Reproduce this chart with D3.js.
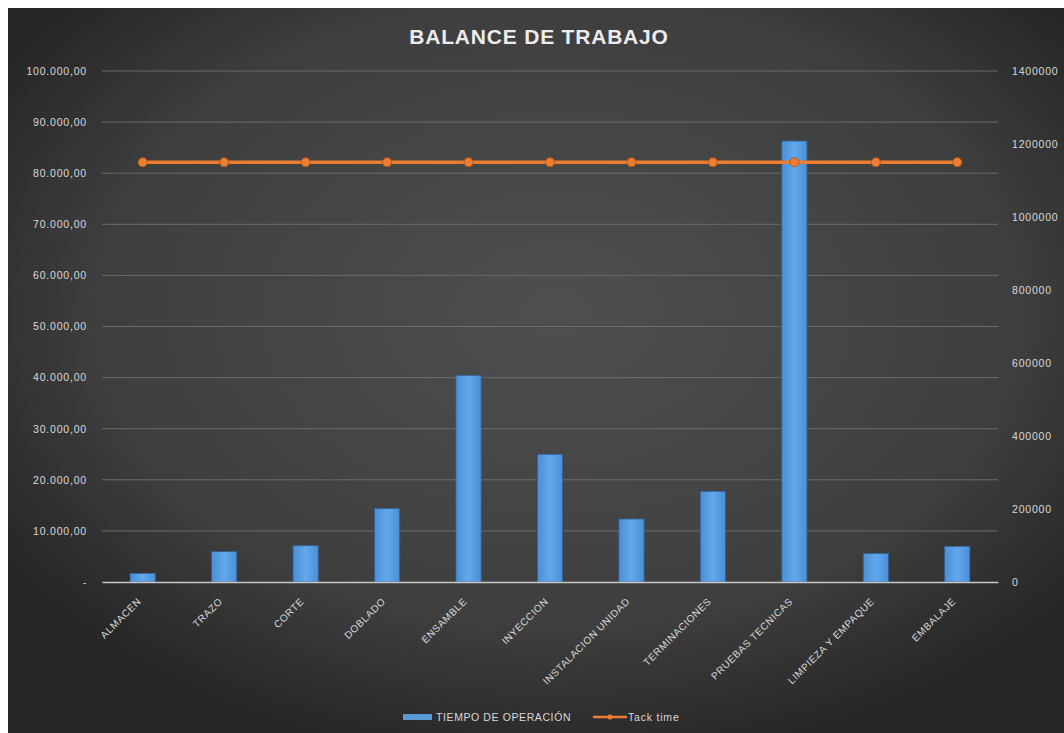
<html lang="es">
  <head>
    <title>Balance de Trabajo</title>
    <script src="https://d3js.org/d3.v7.min.js"></script>
    <style>
      body { margin: 0; background: #fff; }
      text { font-family: "Liberation Sans", "DejaVu Sans", sans-serif; }
    </style>
  </head>
  <body>
  <script>

  var w = 1064;
  var h = 733;
  var margin = {top: 71, right: 66, bottom: 151, left: 102};
  var innerWidth = w - margin.left - margin.right;
  var innerHeight = h - margin.top - margin.bottom;

  // data
  var categories = ["ALMACEN", "TRAZO", "CORTE", "DOBLADO", "ENSAMBLE", "INYECCION",
    "INSTALACION UNIDAD", "TERMINACIONES", "PRUEBAS TECNICAS", "LIMPIEZA Y EMPAQUE", "EMBALAJE"];
  var tiempoOperacion = [1700, 5950, 7100, 14400, 40450, 25000, 12330, 17750, 86300, 5560, 6990];
  var tackTime = [1150000, 1150000, 1150000, 1150000, 1150000, 1150000, 1150000, 1150000, 1150000, 1150000, 1150000];
  var leftTicks = [0, 10000, 20000, 30000, 40000, 50000, 60000, 70000, 80000, 90000, 100000];
  var rightTicks = [0, 200000, 400000, 600000, 800000, 1000000, 1200000, 1400000];
  var seriesNames = ["TIEMPO DE OPERACIÓN", "Tack time"];

  var xScale = d3.scaleBand()
      .domain(categories)
      .range([0, innerWidth])
      .paddingInner(0.69)
      .paddingOuter(0.345);

  var yScale = d3.scaleLinear()
      .domain([0, 100000])
      .range([innerHeight, 0]);

  var y2Scale = d3.scaleLinear()
      .domain([0, 1400000])
      .range([innerHeight, 0]);

  var fmt = d3.formatLocale({decimal: ",", thousands: ".", grouping: [3], currency: ["", ""]}).format(",.2f");

  var svg = d3.select("body")
    .append("svg")
      .attr("width", w)
      .attr("height", h);

  var defs = svg.append("defs");

  var bg = defs.append("radialGradient")
      .attr("id", "bg")
      .attr("cx", "52%").attr("cy", "42%").attr("r", "62%");
  bg.append("stop").attr("offset", "0%").attr("stop-color", "#4f4f4f");
  bg.append("stop").attr("offset", "70%").attr("stop-color", "#3e3e3e");
  bg.append("stop").attr("offset", "100%").attr("stop-color", "#272727");

  var barGrad = defs.append("linearGradient")
      .attr("id", "barGrad")
      .attr("x1", 0).attr("x2", 1).attr("y1", 0).attr("y2", 0);
  barGrad.append("stop").attr("offset", "0%").attr("stop-color", "#4a8fd6");
  barGrad.append("stop").attr("offset", "50%").attr("stop-color", "#62a8ec");
  barGrad.append("stop").attr("offset", "100%").attr("stop-color", "#4a8fd6");

  // background of the chart
  svg.append("rect")
    .attr("x", 8)
    .attr("y", 8)
    .attr("width", w - 8)
    .attr("height", h - 8)
    .attr("fill", "url(#bg)");

  // title
  svg.append("text")
    .attr("x", 539)
    .attr("y", 44)
    .attr("text-anchor", "middle")
    .attr("font-size", 21)
    .attr("font-weight", "bold")
    .attr("letter-spacing", 0.8)
    .attr("fill", "#ededed")
    .text("BALANCE DE TRABAJO");

  var g = svg.append("g")
      .attr("transform", `translate (${margin.left}, ${margin.top})`);

  // gridlines
  g.append("g")
    .selectAll("line")
    .data(leftTicks.slice(1))
    .enter().append("line")
      .attr("x1", 0)
      .attr("x2", innerWidth)
      .attr("y1", d => yScale(d))
      .attr("y2", d => yScale(d))
      .attr("stroke", "#6b6b6b")
      .attr("stroke-width", 1);

  // left axis
  var yAxis = d3.axisLeft(yScale)
      .tickValues(leftTicks)
      .tickSize(0)
      .tickPadding(15)
      .tickFormat(d => d === 0 ? "-" : fmt(d));

  g.append("g")
      .attr("class", "yAxis")
      .call(yAxis)
      .call(a => a.select(".domain").remove())
      .call(a => a.selectAll("text").attr("fill", "#d9d9d9").attr("font-size", 10.5).attr("letter-spacing", 0.8));

  // right axis
  var y2Axis = d3.axisRight(y2Scale)
      .tickValues(rightTicks)
      .tickSize(0)
      .tickPadding(14)
      .tickFormat(d3.format("d"));

  g.append("g")
      .attr("class", "y2Axis")
      .attr("transform", `translate (${innerWidth}, 0)`)
      .call(y2Axis)
      .call(a => a.select(".domain").remove())
      .call(a => a.selectAll("text").attr("fill", "#d9d9d9").attr("font-size", 10.5).attr("letter-spacing", 0.8));

  // bars
  g.append("g")
      .attr("id", "bars")
      .selectAll("rect")
      .data(tiempoOperacion)
      .enter().append("rect")
        .attr("x", (d, i) => xScale(categories[i]))
        .attr("y", d => yScale(d))
        .attr("width", xScale.bandwidth())
        .attr("height", d => innerHeight - yScale(d))
        .attr("fill", "url(#barGrad)")
        .attr("stroke", "#2f5f92")
        .attr("stroke-width", 0.8);

  // x axis
  var xAxis = d3.axisBottom(xScale).tickSize(0).tickPadding(0);

  var xg = g.append("g")
      .attr("class", "xAxis")
      .attr("transform", `translate (0, ${innerHeight})`)
      .call(xAxis);
  xg.select(".domain").attr("stroke", "#c8c8c8").attr("stroke-width", 1.5);
  xg.selectAll("text")
      .attr("fill", "#d9d9d9")
      .attr("font-size", 10)
      .attr("letter-spacing", 0.6)
      .attr("text-anchor", "end")
      .attr("dy", 0)
      .attr("transform", "translate(-1, 20) rotate(-45)");

  // tack time line
  var line = d3.line()
      .x((d, i) => xScale(categories[i]) + xScale.bandwidth() / 2)
      .y(d => y2Scale(d));

  g.append("path")
      .datum(tackTime)
      .attr("d", line)
      .attr("fill", "none")
      .attr("stroke", "#ed7d31")
      .attr("stroke-width", 3.5);

  g.append("g")
      .selectAll("circle")
      .data(tackTime)
      .enter().append("circle")
        .attr("cx", (d, i) => xScale(categories[i]) + xScale.bandwidth() / 2)
        .attr("cy", d => y2Scale(d))
        .attr("r", 4.5)
        .attr("fill", "#ed7d31")
        .attr("stroke", "#b35a1e")
        .attr("stroke-width", 1);

  // legend
  var legend = svg.append("g").attr("transform", "translate(403, 717)");
  legend.append("rect")
      .attr("x", 0).attr("y", -3)
      .attr("width", 29).attr("height", 6)
      .attr("fill", "#5b9bd5");
  legend.append("text")
      .attr("x", 33).attr("y", 4)
      .attr("font-size", 10.5)
      .attr("letter-spacing", 0.6)
      .attr("fill", "#d9d9d9")
      .text(seriesNames[0]);
  legend.append("line")
      .attr("x1", 190).attr("x2", 224)
      .attr("y1", 0).attr("y2", 0)
      .attr("stroke", "#ed7d31").attr("stroke-width", 2.5);
  legend.append("circle")
      .attr("cx", 207).attr("cy", 0).attr("r", 2.5)
      .attr("fill", "#ed7d31");
  legend.append("text")
      .attr("x", 225).attr("y", 4)
      .attr("font-size", 10.5)
      .attr("letter-spacing", 0.8)
      .attr("fill", "#d9d9d9")
      .text(seriesNames[1]);

    </script>
  </body>
</html>
